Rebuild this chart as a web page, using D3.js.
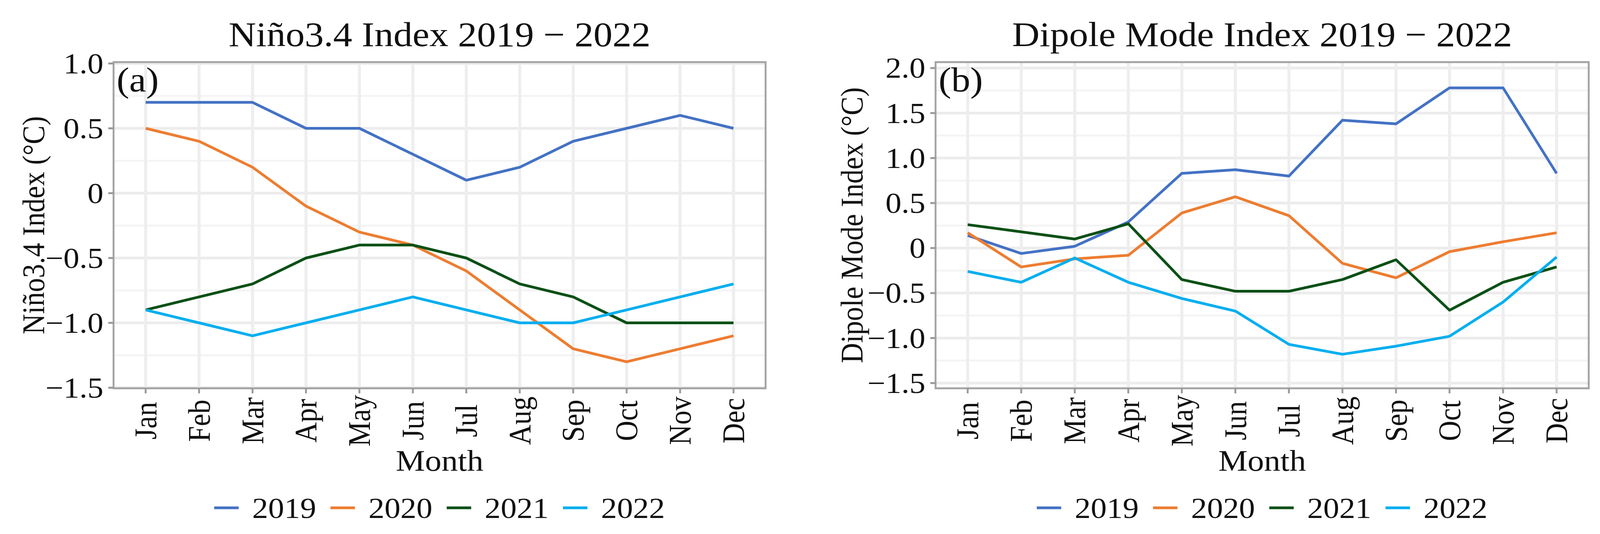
<!DOCTYPE html>
<html>
<head>
<meta charset="utf-8">
<script src="https://cdn.jsdelivr.net/npm/d3@7"></script>
<style>
  html, body { margin: 0; padding: 0; background: #fff; overflow: hidden; }
  #chartContainer { width: 100vw; height: 100vh; }
  svg text { font-family: "Liberation Serif", "Times New Roman", serif; fill: #111; }
</style>
</head>
<body>
<div id="chartContainer"></div>
<script>
  var WIDTH = 4255;
  var HEIGHT = 1367;
  // the reference figure is a little stretched sideways, text follows that
  var SX = 1.15;

  var months = ["Jan", "Feb", "Mar", "Apr", "May", "Jun",
                "Jul", "Aug", "Sep", "Oct", "Nov", "Dec"];
  var years = ["2019", "2020", "2021", "2022"];
  var yearColors = ["#4472C4", "#ED7D31", "#0B5016", "#00AEEF"];

  // Nino3.4 index, degC
  var nino2019 = [0.7, 0.7, 0.7, 0.5, 0.5, 0.3, 0.1, 0.2, 0.4, 0.5, 0.6, 0.5];
  var nino2020 = [0.5, 0.4, 0.2, -0.1, -0.3, -0.4, -0.6, -0.9, -1.2, -1.3, -1.2, -1.1];
  var nino2021 = [-0.9, -0.8, -0.7, -0.5, -0.4, -0.4, -0.5, -0.7, -0.8, -1.0, -1.0, -1.0];
  var nino2022 = [-0.9, -1.0, -1.1, -1.0, -0.9, -0.8, -0.9, -1.0, -1.0, -0.9, -0.8, -0.7];

  // Dipole mode index, degC
  var dmi2019 = [0.14, -0.06, 0.02, 0.29, 0.83, 0.87, 0.80, 1.42, 1.38, 1.78, 1.78, 0.83];
  var dmi2020 = [0.17, -0.21, -0.12, -0.08, 0.39, 0.57, 0.36, -0.17, -0.33, -0.04, 0.07, 0.17];
  var dmi2021 = [0.26, 0.18, 0.10, 0.27, -0.35, -0.48, -0.48, -0.35, -0.13, -0.69, -0.38, -0.21];
  var dmi2022 = [-0.26, -0.38, -0.11, -0.38, -0.56, -0.70, -1.07, -1.18, -1.09, -0.98, -0.60, -0.10];

  var ninoTicks = [1.0, 0.5, 0, -0.5, -1.0, -1.5];
  var dmiTicks = [2.0, 1.5, 1.0, 0.5, 0, -0.5, -1.0, -1.5];

  // viewBox keeps the whole figure in the window whatever its real pixel size
  var svg = d3.select("#chartContainer").append("svg")
      .attr("viewBox", "0 0 " + WIDTH + " " + HEIGHT)
      .attr("preserveAspectRatio", "none")
      .attr("width", "100%")
      .attr("height", "100%")
      .style("display", "block");

  svg.append("rect").attr("width", WIDTH).attr("height", HEIGHT).attr("fill", "#fff");

  function fmt(v) {
    if (v === 0) return "0";
    return (v < 0 ? "\u2212" : "") + Math.abs(v).toFixed(1);
  }

  // place a text with the sideways stretch (and optional rotation)
  function place(sel, x, y, rot) {
    sel.attr("transform", "translate(" + x + "," + y + ") scale(" + SX + ",1)" +
      (rot ? " rotate(" + rot + ")" : ""));
  }

  function drawPanel(opt) {
    var g = svg.append("g");
    var cx = (opt.left + opt.right) / 2;

    var x = d3.scalePoint().domain(months).range([opt.left, opt.right]).padding(0.6);
    var y = d3.scaleLinear().domain(opt.domain).range([opt.bottom, opt.top]);

    var minors = [];
    for (var i = 0; i < opt.ticks.length - 1; i++) {
      minors.push((opt.ticks[i] + opt.ticks[i + 1]) / 2);
    }

    // grid
    g.selectAll(".minor").data(minors).enter().append("line")
        .attr("x1", opt.left).attr("x2", opt.right)
        .attr("y1", function (d) { return y(d); }).attr("y2", function (d) { return y(d); })
        .attr("stroke", "#F4F4F4").attr("stroke-width", 5);
    g.selectAll(".majory").data(opt.ticks).enter().append("line")
        .attr("x1", opt.left).attr("x2", opt.right)
        .attr("y1", function (d) { return y(d); }).attr("y2", function (d) { return y(d); })
        .attr("stroke", "#ECECEC").attr("stroke-width", 7);
    g.selectAll(".majorx").data(months).enter().append("line")
        .attr("x1", function (d) { return x(d); }).attr("x2", function (d) { return x(d); })
        .attr("y1", opt.top).attr("y2", opt.bottom)
        .attr("stroke", "#EEEEEE").attr("stroke-width", 8);

    // series lines
    var line = d3.line()
        .x(function (d, i) { return x(months[i]); })
        .y(function (d) { return y(d); });
    opt.series.forEach(function (s, k) {
      g.append("path")
          .datum(s)
          .attr("d", line)
          .attr("fill", "none")
          .attr("stroke", yearColors[k])
          .attr("stroke-width", 7)
          .attr("stroke-linejoin", "round");
    });

    // border
    g.append("rect")
        .attr("x", opt.left).attr("y", opt.top)
        .attr("width", opt.right - opt.left).attr("height", opt.bottom - opt.top)
        .attr("fill", "none").attr("stroke", "#A4A4A4").attr("stroke-width", 5);

    // y ticks + labels
    g.selectAll(".yt").data(opt.ticks).enter().append("line")
        .attr("x1", opt.left - 14).attr("x2", opt.left)
        .attr("y1", function (d) { return y(d); }).attr("y2", function (d) { return y(d); })
        .attr("stroke", "#9A9A9A").attr("stroke-width", 5);
    g.selectAll(".yl").data(opt.ticks).enter().append("text")
        .each(function (d) { place(d3.select(this), opt.left - 27, y(d)); })
        .attr("dy", "0.34em")
        .attr("text-anchor", "end")
        .style("font-size", "74px")
        .text(fmt);

    // x ticks + labels
    g.selectAll(".xt").data(months).enter().append("line")
        .attr("x1", function (d) { return x(d); }).attr("x2", function (d) { return x(d); })
        .attr("y1", opt.bottom).attr("y2", opt.bottom + 13)
        .attr("stroke", "#9A9A9A").attr("stroke-width", 5);
    g.selectAll(".xl").data(months).enter().append("text")
        .each(function (d) { place(d3.select(this), x(d), 1077, -90); })
        .attr("dy", "0.34em")
        .attr("text-anchor", "middle")
        .style("font-size", "72px")
        .text(function (d) { return d; });

    // titles
    g.append("text")
        .call(place, cx, 118)
        .attr("text-anchor", "middle")
        .style("font-size", "88px")
        .text(opt.title);
    g.append("text")
        .call(place, opt.left - opt.yTitleGap, (opt.top + opt.bottom) / 2, -90)
        .attr("text-anchor", "middle")
        .style("font-size", "72px")
        .text(opt.yTitle);
    g.append("text")
        .call(place, cx, 1205)
        .attr("text-anchor", "middle")
        .style("font-size", "76px")
        .text("Month");
    g.append("text")
        .call(place, opt.left + 8, 234)
        .style("font-size", "88px")
        .text(opt.tag);

    // legend, centred under the panel
    var leg = g.append("g");
    var KEY = 65, GAP = 36, SPACE = 38, LY = 1300;
    var items = years.map(function (yr, k) {
      var it = leg.append("g");
      it.append("line").attr("x1", 0).attr("x2", KEY).attr("y1", 0).attr("y2", 0)
          .attr("stroke", yearColors[k]).attr("stroke-width", 7);
      var t = it.append("text")
          .call(place, KEY + GAP, 0)
          .attr("dy", "0.35em")
          .style("font-size", "74px")
          .text(yr);
      return { g: it, w: KEY + GAP + t.node().getComputedTextLength() * SX };
    });
    var total = d3.sum(items, function (d) { return d.w; }) + SPACE * (items.length - 1);
    var pos = cx - total / 2;
    items.forEach(function (it) {
      it.g.attr("transform", "translate(" + pos + "," + LY + ")");
      pos += it.w + SPACE;
    });
  }

  drawPanel({
    left: 302, right: 2036, top: 159, bottom: 994,
    domain: [-1.5045, 1.0105],
    ticks: ninoTicks,
    title: "Niño3.4 Index 2019 \u2212 2022",
    yTitle: "Niño3.4 Index (°C)",
    yTitleGap: 185,
    tag: "(a)",
    series: [nino2019, nino2020, nino2021, nino2022]
  });

  drawPanel({
    left: 2488, right: 4225, top: 159, bottom: 994,
    domain: [-1.558, 2.066],
    ticks: dmiTicks,
    title: "Dipole Mode Index 2019 \u2212 2022",
    yTitle: "Dipole Mode Index (°C)",
    yTitleGap: 194,
    tag: "(b)",
    series: [dmi2019, dmi2020, dmi2021, dmi2022]
  });
</script>
</body>
</html>
